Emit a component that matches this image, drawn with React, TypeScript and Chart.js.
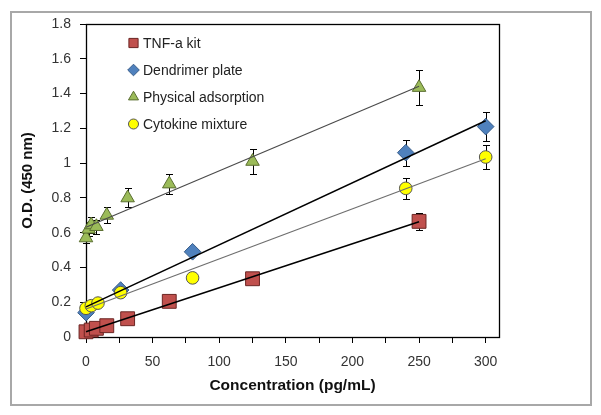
import React, { useEffect, useRef } from 'react';
import { Chart, registerables } from 'chart.js';
import { drawPoint } from 'chart.js/helpers';
Chart.register(...registerables);

// ---- data ----
const tnfX = [0, 3.9, 7.8, 15.6, 31.25, 62.5, 125, 250];
const tnfY = [0.03, 0.04, 0.05, 0.065, 0.105, 0.205, 0.335, 0.665];
const tnfErr = [0.01, 0.01, 0.01, 0.01, 0.01, 0.015, 0.02, 0.05];

const dendX = [0, 26, 80, 240, 300];
const dendY = [0.14, 0.27, 0.49, 1.06, 1.21];
const dendErr = [0.01, 0.015, 0.02, 0.075, 0.085];

const physX = [0, 1.95, 3.9, 7.8, 15.6, 31.25, 62.5, 125, 250];
const physY = [0.57, 0.62, 0.645, 0.635, 0.7, 0.8, 0.88, 1.01, 1.435];
const physErr = [0.03, 0.04, 0.045, 0.04, 0.045, 0.055, 0.06, 0.07, 0.1];

const cytoX = [0, 4, 9, 26, 80, 240, 300];
const cytoY = [0.165, 0.18, 0.195, 0.255, 0.34, 0.855, 1.035];
const cytoErr = [0.01, 0.01, 0.01, 0.015, 0.015, 0.06, 0.07];

const xTicks = [0, 25, 50, 75, 100, 125, 150, 175, 200, 225, 250, 275, 300];
const yTicks = [0, 0.2, 0.4, 0.6, 0.8, 1, 1.2, 1.4, 1.6, 1.8];

const seriesNames = ['TNF-a kit', 'Dendrimer plate', 'Physical adsorption', 'Cytokine mixture'];

const FONT = '"Liberation Sans", Arial, sans-serif';

function pts(xs: number[], ys: number[]) {
  return xs.map((x, i) => ({ x, y: ys[i] }));
}

// least-squares trendline (as Excel's linear trendline), spanning the series' x range
function trend(xs: number[], ys: number[]) {
  const n = xs.length;
  const mx = xs.reduce((a, b) => a + b, 0) / n;
  const my = ys.reduce((a, b) => a + b, 0) / n;
  let sxy = 0, sxx = 0;
  for (let i = 0; i < n; i++) {
    sxy += (xs[i] - mx) * (ys[i] - my);
    sxx += (xs[i] - mx) * (xs[i] - mx);
  }
  const m = sxy / sxx;
  const b = my - m * mx;
  const x0 = Math.min(...xs);
  const x1 = Math.max(...xs);
  return [{ x: x0, y: m * x0 + b }, { x: x1, y: m * x1 + b }];
}

const errorBarPlugin = {
  id: 'errorBars',
  beforeDatasetsDraw(chart: any) {
    const ctx = chart.ctx;
    const yScale = chart.scales.y;
    ctx.save();
    ctx.strokeStyle = '#000';
    ctx.lineWidth = 1;
    chart.data.datasets.forEach((ds: any, di: number) => {
      if (!ds.errors) return;
      const meta = chart.getDatasetMeta(di);
      meta.data.forEach((el: any, i: number) => {
        const v = ds.data[i].y;
        const e = ds.errors[i];
        const x = Math.round(el.x) + 0.5;
        const yt = Math.round(yScale.getPixelForValue(v + e)) + 0.5;
        const yb = Math.round(yScale.getPixelForValue(v - e)) + 0.5;
        ctx.beginPath();
        ctx.moveTo(x, yt);
        ctx.lineTo(x, yb);
        ctx.moveTo(x - 3.5, yt);
        ctx.lineTo(x + 3.5, yt);
        ctx.moveTo(x - 3.5, yb);
        ctx.lineTo(x + 3.5, yb);
        ctx.stroke();
      });
    });
    ctx.restore();
  },
};

const framePlugin = {
  id: 'frame',
  beforeDraw(chart: any) {
    const ctx = chart.ctx;
    ctx.save();
    ctx.fillStyle = '#fff';
    ctx.fillRect(0, 0, chart.width, chart.height);
    ctx.strokeStyle = '#a8a8a8';
    ctx.lineWidth = 2;
    ctx.strokeRect(11, 12, 580, 393);
    ctx.restore();
  },
  beforeDatasetsDraw(chart: any) {
    const ctx = chart.ctx;
    const a = chart.chartArea;
    ctx.save();
    ctx.strokeStyle = '#000';
    ctx.lineWidth = 1.3;
    ctx.strokeRect(Math.round(a.left) + 0.5, Math.round(a.top) + 0.5, Math.round(a.right - a.left), Math.round(a.bottom - a.top));
    ctx.restore();
  },
};

const legendPlugin = {
  id: 'innerLegend',
  afterDraw(chart: any) {
    const ctx = chart.ctx;
    ctx.save();
    const rowsY = [43, 70, 97, 124];
    const sizes = [6.5, 5.8, 5.8, 5];
    chart.data.datasets.slice(0, 4).forEach((ds: any, i: number) => {
      ctx.fillStyle = ds.backgroundColor;
      ctx.strokeStyle = ds.borderColor;
      ctx.lineWidth = 1;
      drawPoint(ctx, { pointStyle: ds.pointStyle, radius: sizes[i], borderWidth: 1, rotation: 0 } as any, 133.5, rowsY[i]);
      ctx.fillStyle = '#222';
      ctx.font = `14px ${FONT}`;
      ctx.textBaseline = 'middle';
      ctx.textAlign = 'left';
      ctx.fillText(seriesNames[i], 143, rowsY[i] + 1);
    });
    ctx.restore();
  },
};

export default function App() {
  const ref = useRef<HTMLCanvasElement>(null);
  useEffect(() => {
    if (!ref.current) return;
    const scatter = (label: string, xs: number[], ys: number[], errs: number[], style: string, bg: string, border: string, r: number, order: number) => ({
      type: 'scatter' as const,
      label,
      data: pts(xs, ys),
      errors: errs,
      pointStyle: style,
      pointRadius: r,
      pointHoverRadius: r,
      backgroundColor: bg,
      borderColor: border,
      pointBorderWidth: 1,
      borderWidth: 1,
      showLine: false,
      clip: false,
      order,
    });
    const tl = (xs: number[], ys: number[], color: string, w: number) => ({
      type: 'line' as const,
      label: '',
      data: trend(xs, ys),
      borderColor: color,
      borderWidth: w,
      pointRadius: 0,
      showLine: true,
      fill: false,
      clip: false,
      order: 0,
    });
    const chart = new Chart(ref.current, {
      type: 'scatter',
      data: {
        datasets: [
          scatter(seriesNames[0], tnfX, tnfY, tnfErr, 'rect', '#C0504D', '#6b2523', 9.8, 4),
          scatter(seriesNames[1], dendX, dendY, dendErr, 'rectRot', '#4F81BD', '#385D8A', 8.3, 3),
          scatter(seriesNames[2], physX, physY, physErr, 'triangle', '#9BBB59', '#5a6e30', 7.8, 2),
          scatter(seriesNames[3], cytoX, cytoY, cytoErr, 'circle', '#FFFF00', '#555', 6.3, 1),
          tl(tnfX, tnfY, '#000', 1.5),
          tl(dendX, dendY, '#000', 1.5),
          tl(physX, physY, '#4a4a4a', 1.2),
          tl(cytoX, cytoY, '#6e6e6e', 1.2),
        ] as any,
      },
      options: {
        responsive: false,
        animation: false,
        layout: { padding: { left: 0, top: 24, right: 102, bottom: 20 } },
        plugins: { legend: { display: false }, tooltip: { enabled: false } },
        scales: {
          x: {
            type: 'linear',
            min: 0,
            max: 310,
            afterBuildTicks: (s: any) => { s.ticks = xTicks.map((v) => ({ value: v })); },
            afterFit: (s: any) => { s.height = 58; },
            ticks: {
              autoSkip: false,
              maxRotation: 0,
              padding: 11,
              color: '#333',
              font: { family: FONT, size: 14 },
              callback: (v: any) => (Number(v) % 50 === 0 ? String(v) : ''),
            },
            grid: { display: true, drawOnChartArea: false, drawTicks: true, tickLength: 6, color: '#000' },
            border: { display: true, color: '#000', width: 1 },
            title: {
              display: true,
              text: 'Concentration (pg/mL)',
              color: '#111',
              font: { family: FONT, size: 15.5, weight: 'bold' },
              padding: { top: 0, bottom: 0 },
            },
          },
          y: {
            type: 'linear',
            min: 0,
            max: 1.8,
            afterBuildTicks: (s: any) => { s.ticks = yTicks.map((v) => ({ value: v })); },
            afterFit: (s: any) => { s.width = 86; },
            ticks: {
              autoSkip: false,
              padding: 9,
              color: '#333',
              font: { family: FONT, size: 14 },
              callback: (v: any) => String(Number(Number(v).toFixed(1))),
            },
            grid: { display: true, drawOnChartArea: false, drawTicks: true, tickLength: 6, color: '#000' },
            border: { display: true, color: '#000', width: 1 },
            title: {
              display: true,
              text: 'O.D. (450 nm)',
              color: '#111',
              font: { family: FONT, size: 15, weight: 'bold' },
              padding: { top: 19, bottom: 0 },
            },
          },
        },
      } as any,
      plugins: [framePlugin, errorBarPlugin, legendPlugin],
    });
    return () => chart.destroy();
  }, []);
  return (
    <div style={{ position: 'fixed', left: 0, top: 0, width: 601, height: 415 }}>
      <canvas ref={ref} width={601} height={415} style={{ display: 'block' }} />
    </div>
  );
}
